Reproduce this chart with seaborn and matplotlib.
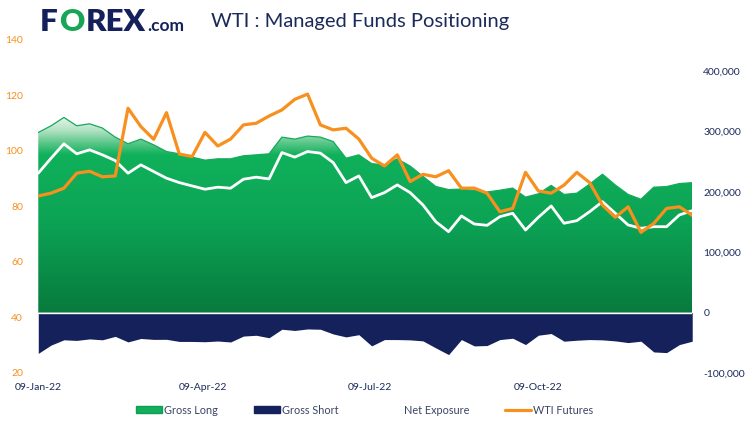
import numpy as np
import pandas as pd
import matplotlib
matplotlib.use("Agg")
import matplotlib.pyplot as plt
import matplotlib.dates as mdates
import seaborn as sns
from matplotlib.colors import LinearSegmentedColormap
from matplotlib.patches import Patch
from matplotlib.lines import Line2D
from matplotlib.ticker import FuncFormatter, FixedLocator
from matplotlib.offsetbox import TextArea, HPacker, AnnotationBbox

# ---------------- data ----------------
dates = pd.date_range("2022-01-09", periods=52, freq="7D")

gross_long_k = [298.7, 309.8, 323.6, 309.8, 313.1, 306.0, 291.0, 280.0, 287.7, 278.2,
                267.1, 263.3, 257.8, 252.8, 255.0, 255.0, 260.0, 261.6, 263.3, 291.0,
                287.7, 292.7, 291.0, 283.7, 256.0, 261.6, 247.0, 245.0, 255.0, 243.0,
                226.0, 209.2, 204.0, 204.9, 202.5, 200.0, 203.0, 206.5, 191.5, 197.0,
                211.0, 196.0, 198.0, 213.0, 229.5, 211.6, 196.0, 188.0, 208.0, 209.0,
                214.0, 215.5]

gross_short_k = [67.5, 53.7, 45.0, 46.0, 43.5, 45.0, 39.3, 48.5, 42.8, 44.3,
                 44.2, 47.7, 47.7, 48.2, 47.0, 48.6, 38.8, 37.5, 41.6, 27.5,
                 29.5, 27.0, 27.5, 35.3, 40.2, 36.5, 55.1, 44.6, 44.6, 45.1,
                 46.8, 58.4, 69.5, 44.6, 55.1, 54.5, 44.6, 42.4, 52.9, 37.4,
                 34.6, 47.3, 45.7, 44.6, 45.1, 46.8, 49.6, 47.3, 65.1, 66.2,
                 52.9, 47.3]

net_exposure_k = [231.2, 256.1, 279.9, 263.3, 269.9, 261.6, 252.1, 231.2, 245.0, 233.9,
                  222.9, 215.6, 210.1, 204.6, 208.0, 206.3, 221.2, 224.6, 221.7, 265.4,
                  257.8, 267.1, 264.4, 248.8, 215.6, 226.7, 190.7, 199.0, 211.8, 199.0,
                  178.6, 150.8, 134.2, 160.3, 147.0, 144.8, 159.1, 164.8, 137.0, 158.1,
                  176.9, 148.2, 152.5, 167.4, 184.0, 164.8, 145.3, 139.9, 142.5, 142.5,
                  162.0, 169.1]

wti_futures = [83.8, 84.8, 86.6, 92.0, 92.7, 90.7, 91.0, 115.4, 108.8, 104.2,
               113.8, 98.9, 98.0, 106.7, 101.8, 104.3, 109.4, 110.0, 112.6, 114.8,
               118.6, 120.5, 109.4, 107.6, 108.2, 104.3, 97.4, 94.6, 98.6, 89.0,
               91.6, 90.7, 92.9, 86.6, 86.6, 84.8, 78.1, 79.3, 92.3, 85.6,
               84.8, 87.7, 92.3, 88.6, 80.5, 76.1, 79.9, 70.7, 73.9, 79.3,
               79.9, 76.8]

xtick_dates = ["2022-01-09", "2022-04-09", "2022-07-09", "2022-10-09"]
left_ticks = [20, 40, 60, 80, 100, 120, 140]
right_ticks = [-100000, 0, 100000, 200000, 300000, 400000]

gross_long = np.array(gross_long_k) * 1000
gross_short = np.array(gross_short_k) * 1000
net_exposure = np.array(net_exposure_k) * 1000

df = pd.DataFrame({"date": dates, "long": gross_long, "short": -gross_short,
                   "net": net_exposure, "wti": wti_futures})

# ---------------- style ----------------
sns.set_theme(style="white")
plt.rcParams["font.family"] = ["Lato", "DejaVu Sans"]

NAVY = "#14215A"
TEXT = "#1B2A5A"
ORANGE = "#F7901E"

fig = plt.figure(figsize=(7.49, 4.24), dpi=100)
ax = fig.add_axes([0.0511, 0.1203, 0.8731, 0.7854])

xnum = mdates.date2num(df["date"])

# gross long area with gradient
poly = ax.fill_between(df["date"], 0, df["long"], facecolor="none", lw=0)
stops = [(0.0, "#087A3D"), (150000 / 330000, "#0CA355"), (262000 / 330000, "#10B15B"),
         (282000 / 330000, "#5CC78A"), (302000 / 330000, "#B2E2C4"), (1.0, "#F2FAF4")]
cmap = LinearSegmentedColormap.from_list("g", stops)
grad = np.linspace(0, 1, 400).reshape(-1, 1)
im = ax.imshow(grad, cmap=cmap, origin="lower", aspect="auto",
               extent=[xnum[0], xnum[-1], 0, 330000], zorder=1)
im.set_clip_path(poly.get_paths()[0], transform=ax.transData)
sns.lineplot(data=df, x="date", y="long", ax=ax, color="#15A95B", lw=0.9, zorder=2)

# gross short area
ax.fill_between(df["date"], df["short"], 0, color=NAVY, lw=0, zorder=1)
ax.axhline(0, color="white", lw=1.0, zorder=3)

# net exposure
sns.lineplot(data=df, x="date", y="net", ax=ax, color="white", lw=2.0, zorder=4)

ax.set_ylim(-100000, 452000)
ax.set_xlim(xnum[0], xnum[-1])
ax.set_xlabel("")
ax.set_ylabel("")

# WTI futures on left axis
ax2 = ax.twinx()
sns.lineplot(data=df, x="date", y="wti", ax=ax2, color=ORANGE, lw=2.3, zorder=5)
ax2.set_ylim(20, 140)
ax2.set_xlim(xnum[0], xnum[-1])
ax2.set_ylabel("")
ax2.set_xlabel("")

# axis sides: positions on the right, WTI on the left
ax.yaxis.tick_right()
ax.yaxis.set_label_position("right")
ax.yaxis.set_major_locator(FixedLocator(right_ticks))
ax.yaxis.set_major_formatter(FuncFormatter(lambda v, p: f"{v:,.0f}"))
ax.tick_params(axis="y", which="both", length=0, pad=8, labelsize=7.5, labelcolor=TEXT,
               left=False, right=False, labelright=True, labelleft=False)
ax.xaxis.set_major_locator(FixedLocator(mdates.date2num(pd.to_datetime(xtick_dates))))
ax.xaxis.set_major_formatter(mdates.DateFormatter("%d-%b-%y"))
ax.tick_params(axis="x", length=0, pad=7, labelsize=7.5, labelcolor=TEXT)

ax2.yaxis.tick_left()
ax2.yaxis.set_label_position("left")
ax2.yaxis.set_major_locator(FixedLocator(left_ticks))
ax2.tick_params(axis="y", which="both", length=0, pad=11, labelsize=7.5, labelcolor=ORANGE,
                left=False, right=False, labelleft=True, labelright=False)

for a in (ax, ax2):
    for s in a.spines.values():
        s.set_visible(False)
    a.grid(False)

# legend
handles = [Patch(facecolor="#12AE5C", edgecolor="#0E9E52"),
           Patch(facecolor=NAVY, edgecolor=NAVY),
           Line2D([], [], color="white", lw=2),
           Line2D([], [], color=ORANGE, lw=2.3)]
labels = ["Gross Long", "Gross Short", "Net Exposure", "WTI Futures"]
fig.legend(handles, labels, loc="center", bbox_to_anchor=(0.487, 0.033), ncol=4,
           frameon=False, fontsize=7.8, handlelength=2.4, handleheight=0.55,
           handletextpad=0.2, columnspacing=3.35, labelcolor="#3A4466")

# logo and title
parts = [TextArea("F", textprops=dict(color=NAVY, fontsize=22.5, fontweight="heavy")),
         TextArea("O", textprops=dict(color="#17A655", fontsize=22.5, fontweight="heavy")),
         TextArea("REX", textprops=dict(color=NAVY, fontsize=22.5, fontweight="heavy")),
         TextArea(".com", textprops=dict(color=NAVY, fontsize=12.5, fontweight="bold"))]
logo = HPacker(children=parts, align="baseline", pad=0, sep=1)
ab = AnnotationBbox(logo, (40 / 749, 1 - 22 / 424), xycoords="figure fraction",
                    box_alignment=(0, 0.5), frameon=False, pad=0)
fig.add_artist(ab)

fig.text(211 / 749, 1 - 22 / 424, "WTI : Managed Funds Positioning", fontsize=14.5,
         color=TEXT, ha="left", va="center")

fig.savefig("out.png", dpi=100)
